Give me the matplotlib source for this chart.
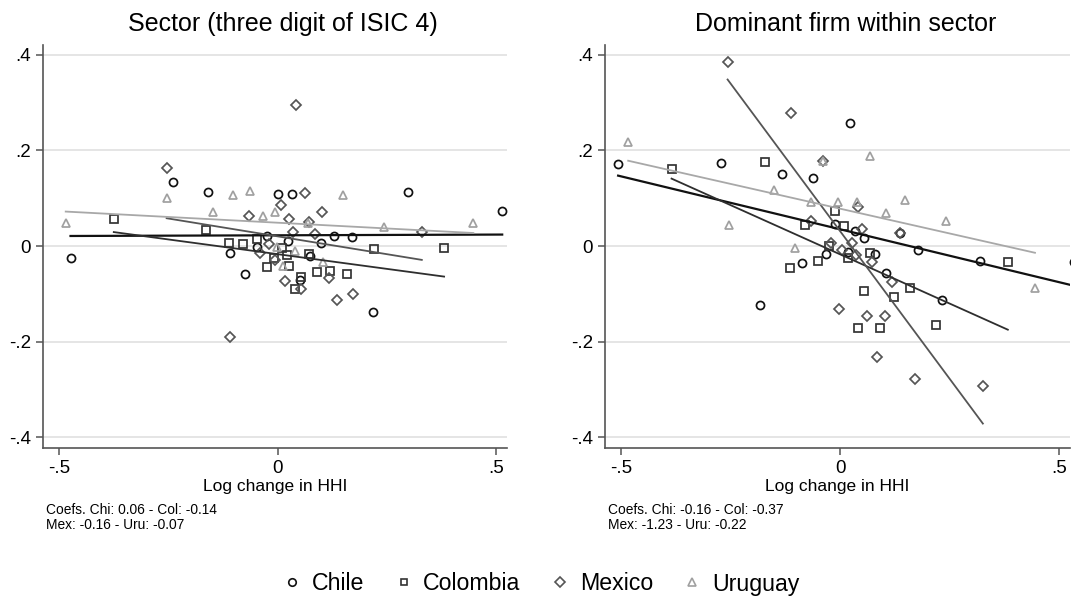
import matplotlib
matplotlib.use('Agg')
import matplotlib.pyplot as plt
from matplotlib.lines import Line2D
import numpy as np

plt.rcParams['font.family'] = ['Liberation Sans', 'DejaVu Sans']

countries = ['Chile', 'Colombia', 'Mexico', 'Uruguay']

# sector level (three digit ISIC 4): log change in HHI vs outcome
sec_chile_x = [-0.474, -0.240, -0.160, 0.0, 0.034, 0.298, 0.514, -0.024, -0.048,
               -0.108, -0.074, 0.024, 0.129, 0.170, 0.099, 0.074, 0.051, 0.219]
sec_chile_y = [-0.024, 0.134, 0.113, 0.109, 0.109, 0.113, 0.074, 0.021, -0.001,
               -0.015, -0.058, 0.010, 0.021, 0.019, 0.006, -0.020, -0.071, -0.137]
sec_col_x = [-0.375, -0.165, -0.112, -0.079, -0.047, -0.025, -0.008, 0.011, 0.022,
             0.072, 0.026, 0.221, 0.381, 0.091, 0.121, 0.158, 0.053, 0.040]
sec_col_y = [0.056, 0.033, 0.006, 0.004, 0.014, -0.043, -0.024, -0.004, -0.019,
             -0.017, -0.041, -0.006, -0.005, -0.054, -0.052, -0.058, -0.064, -0.090]
sec_mex_x = [-0.254, -0.066, 0.008, -0.019, -0.041, -0.005, -0.109, 0.042, 0.063,
             0.027, 0.101, 0.072, 0.330, 0.036, 0.085, 0.118, 0.017, 0.053, 0.173, 0.137]
sec_mex_y = [0.163, 0.063, 0.085, 0.004, -0.015, -0.029, -0.190, 0.294, 0.111,
             0.056, 0.071, 0.051, 0.029, 0.030, 0.026, -0.066, -0.073, -0.090, -0.100, -0.113]
sec_uru_x = [-0.253, -0.102, -0.063, -0.149, -0.033, -0.006, -0.485, 0.150, 0.069,
             0.448, 0.243, -0.002, 0.040, 0.104, 0.013]
sec_uru_y = [0.100, 0.106, 0.115, 0.072, 0.063, 0.072, 0.049, 0.106, 0.049,
             0.049, 0.039, -0.001, -0.010, -0.033, -0.041]

# dominant firm within sector
dom_chile_x = [-0.507, -0.271, -0.132, -0.062, 0.022, -0.012, 0.034, 0.055, 0.136, 0.178,
               0.319, 0.535, 0.018, 0.079, -0.033, -0.088, 0.105, 0.232, -0.183]
dom_chile_y = [0.171, 0.173, 0.150, 0.143, 0.256, 0.046, 0.032, 0.016, 0.027, -0.008,
               -0.031, -0.033, -0.012, -0.017, -0.017, -0.036, -0.057, -0.113, -0.123]
dom_col_x = [-0.385, -0.172, -0.081, -0.011, 0.009, 0.383, -0.026, 0.018, 0.069,
             -0.050, -0.115, 0.054, 0.123, 0.159, 0.040, 0.090, 0.220]
dom_col_y = [0.160, 0.176, 0.044, 0.073, 0.042, -0.034, 0.0, -0.026, -0.015,
             -0.031, -0.045, -0.093, -0.106, -0.088, -0.172, -0.172, -0.164]
dom_mex_x = [-0.257, -0.112, -0.040, -0.067, 0.041, 0.051, 0.136, -0.020, 0.026, 0.005,
             0.037, 0.072, 0.119, -0.003, 0.062, 0.102, 0.084, 0.172, 0.326]
dom_mex_y = [0.384, 0.278, 0.177, 0.053, 0.081, 0.035, 0.027, 0.006, 0.007, -0.008,
             -0.019, -0.033, -0.075, -0.132, -0.146, -0.146, -0.232, -0.278, -0.292]
dom_uru_x = [-0.484, -0.040, -0.151, -0.067, -0.254, 0.068, -0.006, 0.039, 0.148,
             0.104, 0.241, 0.445, -0.102]
dom_uru_y = [0.218, 0.177, 0.118, 0.091, 0.044, 0.188, 0.091, 0.091, 0.097,
             0.068, 0.052, -0.087, -0.004]

# fitted lines (intercept, slope) per country
sec_fit = [(0.0224, 0.003), (-0.017, -0.123), (0.0202, -0.149), (0.0487, -0.048)]
dom_fit = [(0.035, -0.221), (-0.0174, -0.411), (0.031, -1.233), (0.078, -0.207)]

sec_note = 'Coefs. Chi: 0.06 - Col: -0.14\nMex: -0.16 - Uru: -0.07'
dom_note = 'Coefs. Chi: -0.16 - Col: -0.37\nMex: -1.23 - Uru: -0.22'

markers = ['o', 's', 'D', '^']
msizes = [5.8, 5.3, 5.6, 6.3]
mcolors = ['#111111', '#333333', '#555555', '#a0a0a0']
lcolors = ['#111111', '#2e2e2e', '#555555', '#a8a8a8']
lwidths = [1.6, 1.3, 1.3, 1.3]

W, H = 1087, 596
fig = plt.figure(figsize=(W / 100, H / 100), dpi=100)


def panel(x0, x1, title, xs, ys, fits, note):
    ax = fig.add_axes([x0 / W, (H - 448) / H, (x1 - x0) / W, (448 - 45) / H])
    for i in range(4):
        ax.plot(xs[i], ys[i], linestyle='none', marker=markers[i], ms=msizes[i],
                mfc='none', mec=mcolors[i], mew=1.25, zorder=3)
    for i in range(4):
        a, b = fits[i]
        xx = np.array([min(xs[i]), max(xs[i])])
        ax.plot(xx, a + b * xx, color=lcolors[i], lw=lwidths[i], zorder=4)
    ax.set_xlim(-0.537, 0.525)
    ax.set_ylim(-0.422, 0.42)
    ax.set_xticks([-0.5, 0, 0.5])
    ax.set_xticklabels(['-.5', '0', '.5'])
    ax.set_yticks([-0.4, -0.2, 0, 0.2, 0.4])
    ax.set_yticklabels(['-.4', '-.2', '0', '.2', '.4'])
    ax.grid(axis='y', color='#dedede', lw=1.1, zorder=0)
    ax.set_axisbelow(True)
    for s in ['top', 'right']:
        ax.spines[s].set_visible(False)
    for s in ['left', 'bottom']:
        ax.spines[s].set_color('#555555')
        ax.spines[s].set_linewidth(1.2)
    ax.tick_params(colors='#555555', labelcolor='black', labelsize=13.5,
                   length=5, width=1.1)
    cx = (x0 + x1) / 2 / W
    fig.text(cx + 8 / W, (H - 31) / H, title, ha='center', va='baseline', fontsize=18)
    fig.text(cx, (H - 491) / H, 'Log change in HHI', ha='center', va='baseline',
             fontsize=12.5)
    fig.text((x0 + 3) / W, (H - 503) / H, note, ha='left', va='top',
             fontsize=9.9, linespacing=1.05)
    return ax


panel(43, 507, 'Sector (three digit of ISIC 4)',
      [sec_chile_x, sec_col_x, sec_mex_x, sec_uru_x],
      [sec_chile_y, sec_col_y, sec_mex_y, sec_uru_y], sec_fit, sec_note)
panel(605, 1070, 'Dominant firm within sector',
      [dom_chile_x, dom_col_x, dom_mex_x, dom_uru_x],
      [dom_chile_y, dom_col_y, dom_mex_y, dom_uru_y], dom_fit, dom_note)

handles = [Line2D([], [], linestyle='none', marker=markers[i], ms=msizes[i] - 0.4,
                  mfc='none', mec=mcolors[i], mew=1.2) for i in range(4)]
fig.legend(handles, countries, loc='center', bbox_to_anchor=(540 / W, (H - 584) / H),
           ncol=4, frameon=False, fontsize=16.7, handletextpad=0.35,
           columnspacing=1.2, handlelength=1.0)

fig.savefig('out.png', dpi=100, facecolor='white')
